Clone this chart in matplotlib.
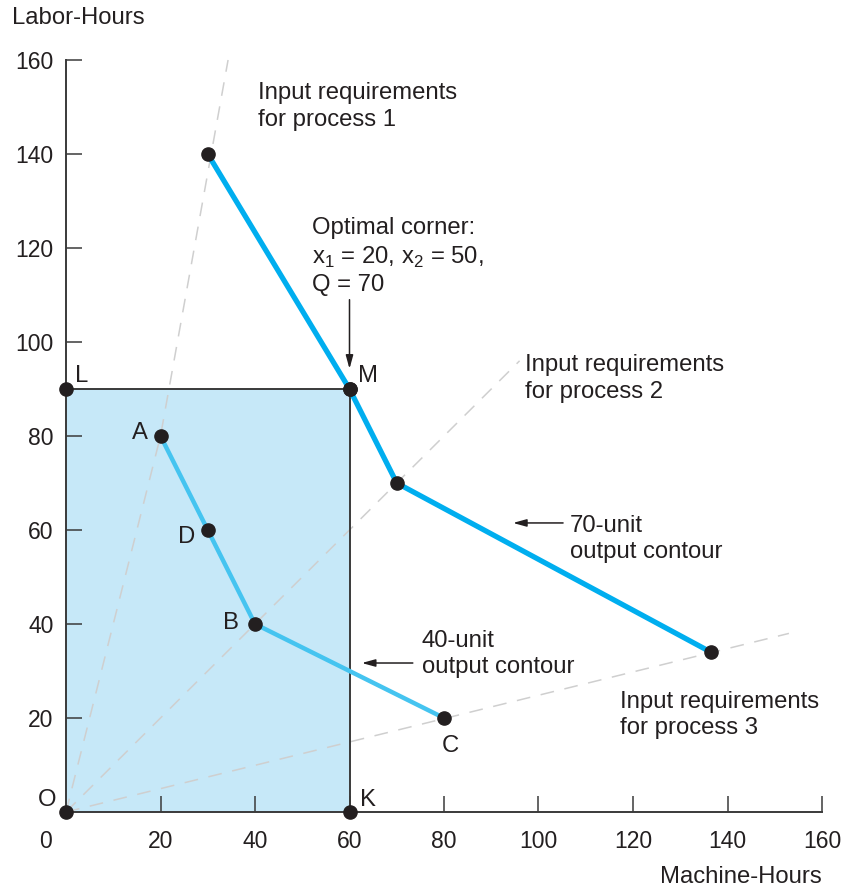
import matplotlib.pyplot as plt
from matplotlib.patches import Rectangle

plt.rcParams['font.family'] = ['Liberation Sans', 'DejaVu Sans']
plt.rcParams['mathtext.fontset'] = 'custom'
plt.rcParams['mathtext.rm'] = 'Liberation Sans'

# 70-unit output contour (process 1 -> M -> process 2 -> process 3)
q70_x = [30, 60, 70, 136.5]
q70_y = [140, 90, 70, 34]

# 40-unit output contour A, D, B, C
q40_x = [20, 30, 40, 80]
q40_y = [80, 60, 40, 20]
q40_names = ['A', 'D', 'B', 'C']

# input-requirement rays from the origin
ray1_x, ray1_y = [0, 20, 34.3], [0, 80, 160]
ray2_x, ray2_y = [0, 96], [0, 96]
ray3_x, ray3_y = [0, 153], [0, 38]

# feasible region corners O, K, M, L
box_x = [0, 60, 60, 0]
box_y = [0, 0, 90, 90]

ticks = [20, 40, 60, 80, 100, 120, 140, 160]

FS = 16.5   # tick labels
TS = 17.2   # annotations
INK = '#231f20'
AXC = '#3a3a3a'
LINE_STEP = 5.6  # one text line in data units (y)

fig = plt.figure(figsize=(8.45, 8.89), dpi=100)
ax = fig.add_axes([66 / 845, 1 - 812 / 889, 756 / 845, 752 / 889])
ax.set_xlim(0, 160)
ax.set_ylim(0, 160)

# shaded feasible region
ax.add_patch(Rectangle((box_x[0], box_y[0]), box_x[1] - box_x[0], box_y[2] - box_y[0],
                       facecolor='#c6e8f8', edgecolor='none', zorder=0))
ax.plot([box_x[3], box_x[2], box_x[1]], [box_y[3], box_y[2], box_y[1]],
        color=AXC, lw=1.4, zorder=2, clip_on=False)

# dashed rays
for rx, ry in [(ray1_x, ray1_y), (ray2_x, ray2_y), (ray3_x, ray3_y)]:
    ax.plot(rx, ry, color='#cfcfcf', lw=1.1, dashes=(9, 7), zorder=1, clip_on=False)

# contours
ax.plot(q70_x, q70_y, color='#00aeef', lw=3.8, zorder=3, solid_capstyle='butt')
ax.plot(q40_x, q40_y, color='#45c4f0', lw=3.2, zorder=3, solid_capstyle='butt')

# dots
ax.plot(q70_x, q70_y, 'o', color=INK, ms=9.5, zorder=4, clip_on=False)
ax.plot(q40_x, q40_y, 'o', color=INK, ms=9.5, zorder=4, clip_on=False)
ax.plot(box_x, box_y, 'o', color=INK, ms=9.5, zorder=4, clip_on=False)

# axes styling
for s in ['top', 'right']:
    ax.spines[s].set_visible(False)
for s in ['left', 'bottom']:
    ax.spines[s].set_color(AXC)
    ax.spines[s].set_linewidth(1.4)
ax.set_xticks(ticks)
ax.set_yticks(ticks)
ax.tick_params(direction='in', length=11.5, width=1.1, color=AXC,
               labelsize=FS, labelcolor=INK)
ax.tick_params(axis='x', pad=13)
ax.tick_params(axis='y', pad=9)
ax.patch.set_alpha(0)
ax.text(-4.4, -3.9, '0', ha='center', va='top', fontsize=FS, color=INK, clip_on=False)

# point labels
ax.text(-2.1, 1.3, 'O', ha='right', va='baseline', fontsize=TS, color=INK)
ax.text(62.2, 1.3, 'K', ha='left', va='baseline', fontsize=TS, color=INK)
ax.text(1.9, 91.5, 'L', ha='left', va='baseline', fontsize=TS, color=INK)
ax.text(61.8, 91.5, 'M', ha='left', va='baseline', fontsize=TS, color=INK)
ax.text(17.4, 79.4, q40_names[0], ha='right', va='baseline', fontsize=TS, color=INK)
ax.text(27.3, 57.2, q40_names[1], ha='right', va='baseline', fontsize=TS, color=INK)
ax.text(36.6, 38.9, q40_names[2], ha='right', va='baseline', fontsize=TS, color=INK)
ax.text(81.3, 12.8, q40_names[3], ha='center', va='baseline', fontsize=TS, color=INK)


def note(x, y_first, s):
    # y_first is the baseline of the first line; matplotlib anchors the last one
    n = s.count('\n')
    ax.text(x, y_first - n * LINE_STEP, s, ha='left', va='baseline',
            fontsize=TS, color=INK, linespacing=1.27)


note(40.6, 151.6, 'Input requirements\nfor process 1')
note(52.1, 122.0, 'Optimal corner:\nx$_1$ = 20, x$_2$ = 50,\nQ = 70')
note(97.1, 93.7, 'Input requirements\nfor process 2')
note(106.7, 59.6, '70-unit\noutput contour')
note(75.3, 35.1, '40-unit\noutput contour')
note(117.2, 22.1, 'Input requirements\nfor process 3')

arrow = dict(arrowstyle='-|>,head_length=0.8,head_width=0.22', color=INK, lw=1.1,
             shrinkA=0, shrinkB=0)
ax.annotate('', xy=(60, 94.3), xytext=(60, 109), arrowprops=arrow)
ax.annotate('', xy=(94.6, 61.5), xytext=(105.2, 61.5), arrowprops=arrow)
ax.annotate('', xy=(62.6, 31.7), xytext=(73.4, 31.7), arrowprops=arrow)

fig.text(12 / 845, 1 - 7 / 889, 'Labor-Hours', ha='left', va='top', fontsize=TS, color=INK)
fig.text(822 / 845, 1 - 883 / 889, 'Machine-Hours', ha='right', va='baseline',
         fontsize=TS, color=INK)

fig.savefig('out.png', dpi=100)
